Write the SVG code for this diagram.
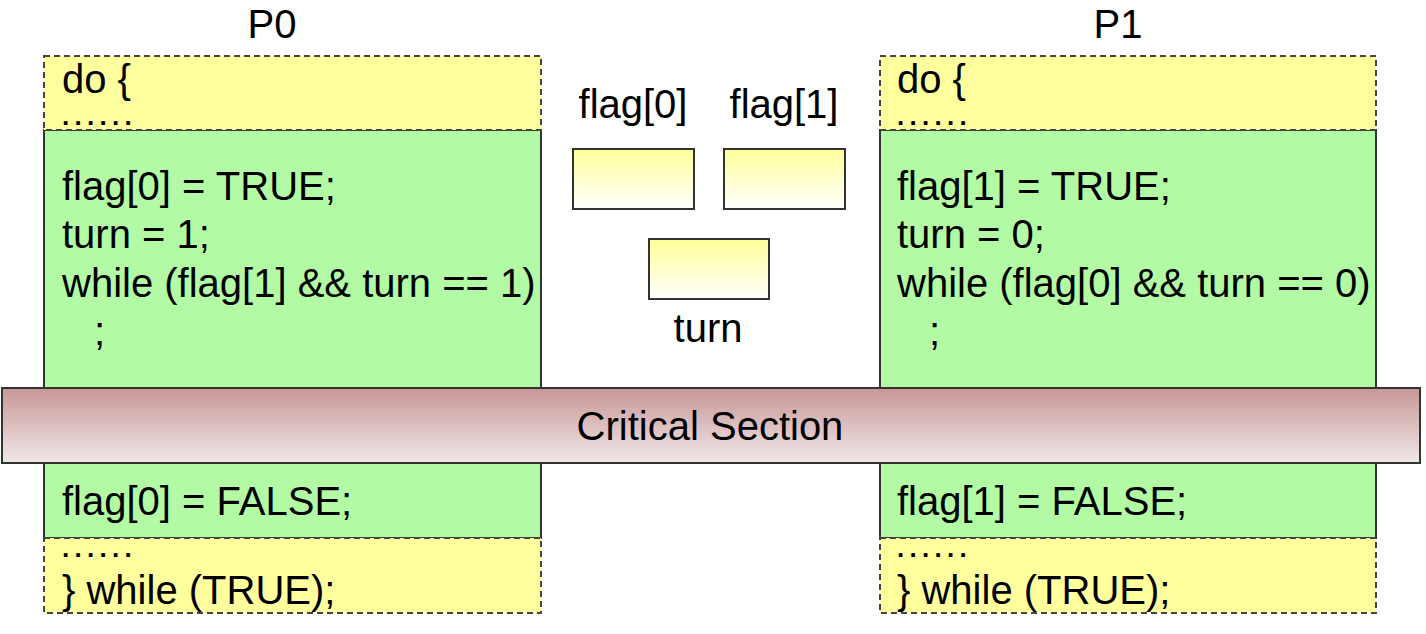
<svg xmlns="http://www.w3.org/2000/svg" width="1426" height="634" viewBox="0 0 1426 634">
<style>
text{font-family:"Liberation Sans",Arial,sans-serif;font-size:40px;fill:#000}
.d{font-size:26px;font-weight:bold;letter-spacing:5.3px}
.y{fill:#ffff9e;stroke:#444;stroke-width:2;stroke-dasharray:6 4}
.g{fill:#b2fba4;stroke:#333;stroke-width:2}
.v{fill:url(#yg);stroke:#333;stroke-width:2}
.c{text-anchor:middle}
</style>
<defs>
<linearGradient id="yg" x1="0" y1="0" x2="0" y2="1"><stop offset="0" stop-color="#ffff99"/><stop offset="1" stop-color="#ffffff"/></linearGradient>
<linearGradient id="rg" x1="0" y1="0" x2="0" y2="1"><stop offset="0" stop-color="#c89697"/><stop offset="1" stop-color="#f1e8e8"/></linearGradient>
</defs>
<g id="p0">
<text class="c" x="272" y="38">P0</text>
<rect class="g" x="44" y="130" width="497" height="408"/>
<rect class="y" x="44" y="56" width="497" height="74"/>
<rect class="y" x="44" y="538" width="497" height="75"/>
<text x="62" y="93">do {</text>
<text class="d" x="62" y="125">......</text>
<text x="62" y="200">flag[0] = TRUE;</text>
<text x="62" y="248">turn = 1;</text>
<text x="62" y="297">while (flag[1] &amp;&amp; turn == 1)</text>
<text x="94" y="345">;</text>
<text x="62" y="515">flag[0] = FALSE;</text>
<text class="d" x="62" y="557">......</text>
<text x="62" y="604">} while (TRUE);</text>
</g>
<g id="p1">
<text class="c" x="1118" y="38">P1</text>
<rect class="g" x="880" y="130" width="496" height="408"/>
<rect class="y" x="880" y="56" width="496" height="74"/>
<rect class="y" x="880" y="538" width="496" height="75"/>
<text x="897" y="93">do {</text>
<text class="d" x="897" y="125">......</text>
<text x="897" y="200">flag[1] = TRUE;</text>
<text x="897" y="248">turn = 0;</text>
<text x="897" y="297">while (flag[0] &amp;&amp; turn == 0)</text>
<text x="929" y="345">;</text>
<text x="897" y="515">flag[1] = FALSE;</text>
<text class="d" x="897" y="557">......</text>
<text x="897" y="604">} while (TRUE);</text>
</g>
<g id="flag0">
<text class="c" x="633" y="118">flag[0]</text>
<rect class="v" x="573" y="149" width="121" height="60"/>
</g>
<g id="flag1">
<text class="c" x="784" y="118">flag[1]</text>
<rect class="v" x="724" y="149" width="121" height="60"/>
</g>
<g id="turn">
<rect class="v" x="649" y="239" width="120" height="60"/>
<text class="c" x="708" y="342">turn</text>
</g>
<g id="cs">
<rect x="2" y="388" width="1418" height="75" fill="url(#rg)" stroke="#333" stroke-width="2"/>
<text class="c" x="710" y="440">Critical Section</text>
</g>
<g id="connectors"/>
</svg>
